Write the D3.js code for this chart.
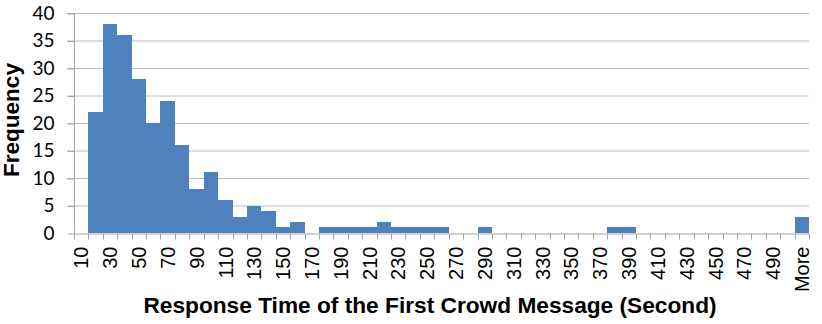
<!DOCTYPE html>
<html>
<head>
<meta charset="utf-8">
<script src="https://cdn.jsdelivr.net/npm/d3@7"></script>
<style>
  body { margin: 0; background: #fff; }
  svg { display: block; }
</style>
</head>
<body>
<svg id="chart"></svg>
<script>
// histogram bins (upper bound of each bin, seconds)
const bins = ["10", "20", "30", "40", "50", "60", "70", "80", "90", "100",
    "110", "120", "130", "140", "150", "160", "170", "180", "190", "200",
    "210", "220", "230", "240", "250", "260", "270", "280", "290", "300",
    "310", "320", "330", "340", "350", "360", "370", "380", "390", "400",
    "410", "420", "430", "440", "450", "460", "470", "480", "490", "500", "More"];

const frequency = [0, 22, 38, 36, 28, 20, 24, 16, 8, 11,
    6, 3, 5, 4, 1, 2, 0, 1, 1, 1,
    1, 2, 1, 1, 1, 1, 0, 0, 1, 0,
    0, 0, 0, 0, 0, 0, 0, 1, 1, 0,
    0, 0, 0, 0, 0, 0, 0, 0, 0, 0, 3];

const yTicks = [0, 5, 10, 15, 20, 25, 30, 35, 40];

const W = 822, H = 324;
const margin = { top: 13, right: 13, bottom: 91, left: 74 };

const svg = d3.select("#chart")
    .attr("width", W)
    .attr("height", H);

const x = d3.scaleBand()
    .domain(bins)
    .range([margin.left, W - margin.right])
    .padding(0);

const y = d3.scaleLinear()
    .domain([0, 40])
    .range([H - margin.bottom, margin.top]);

// horizontal gridlines
svg.append("g")
    .selectAll("line")
    .data(yTicks.filter(d => d > 0))
    .join("line")
    .attr("x1", margin.left - 7)
    .attr("x2", W - margin.right)
    .attr("y1", d => y(d) + 0.5)
    .attr("y2", d => y(d) + 0.5)
    .attr("stroke", "#bdbdbd")
    .attr("stroke-width", 1);

// bars (gap width 0, so they touch)
svg.append("g")
    .attr("shape-rendering", "crispEdges")
    .selectAll("rect")
    .data(bins.map((b, i) => ({ bin: b, value: frequency[i] })))
    .join("rect")
    .attr("x", d => Math.round(x(d.bin)))
    .attr("y", d => Math.round(y(d.value)))
    .attr("width", d => Math.round(x(d.bin) + x.bandwidth()) - Math.round(x(d.bin)))
    .attr("height", d => Math.round(y(0)) - Math.round(y(d.value)))
    .attr("fill", "#4f81bd");

// y axis
const yAxis = d3.axisLeft(y)
    .tickValues(yTicks)
    .tickSize(7)
    .tickPadding(13)
    .tickFormat(d3.format("d"));

const gY = svg.append("g")
    .attr("transform", "translate(" + (margin.left + 0.5) + ",0)")
    .call(yAxis);
gY.select(".domain").attr("stroke", "#a6a6a6").attr("d", "M-7," + (y(40) + 0.5) + "H0V" + (y(0) + 0.5));
gY.selectAll(".tick line").attr("stroke", "#a6a6a6").attr("transform", "translate(0,0.5)");
gY.selectAll(".tick text")
    .style("font-family", "Lato, 'Open Sans', sans-serif")
    .style("font-size", "19px")
    .attr("fill", "#000");

// x axis: tick marks at bin boundaries, every other label
const xAxis = d3.axisBottom(x)
    .tickSize(0)
    .tickFormat((d, i) => i % 2 === 0 ? d : "");

const gX = svg.append("g")
    .attr("transform", "translate(0," + (y(0) + 0.5) + ")")
    .call(xAxis);
gX.select(".domain").attr("stroke", "#a6a6a6");
gX.selectAll(".tick text")
    .style("font-family", "'Liberation Sans', Arial, sans-serif")
    .style("font-size", "20px")
    .attr("fill", "#000")
    .attr("text-anchor", "end")
    .attr("transform", "translate(0,13) rotate(-90)")
    .attr("x", 0)
    .attr("y", 0)
    .attr("dy", "0.36em");

const bounds = bins.map(b => x(b)).concat([x(bins[bins.length - 1]) + x.bandwidth()]);
gX.append("g")
    .selectAll("line")
    .data(bounds)
    .join("line")
    .attr("x1", d => Math.round(d) + 0.5)
    .attr("x2", d => Math.round(d) + 0.5)
    .attr("y1", 0)
    .attr("y2", 6)
    .attr("stroke", "#a6a6a6");

// axis titles
svg.append("text")
    .attr("x", 430)
    .attr("y", 313)
    .attr("text-anchor", "middle")
    .style("font-family", "'Liberation Sans', Arial, sans-serif")
    .style("font-weight", "bold")
    .style("font-size", "22.7px")
    .text("Response Time of the First Crowd Message (Second)");

svg.append("text")
    .attr("transform", "translate(19," + 120 + ") rotate(-90)")
    .attr("text-anchor", "middle")
    .style("font-family", "'Liberation Sans', Arial, sans-serif")
    .style("font-weight", "bold")
    .style("font-size", "22.5px")
    .text("Frequency");
</script>
</body>
</html>
